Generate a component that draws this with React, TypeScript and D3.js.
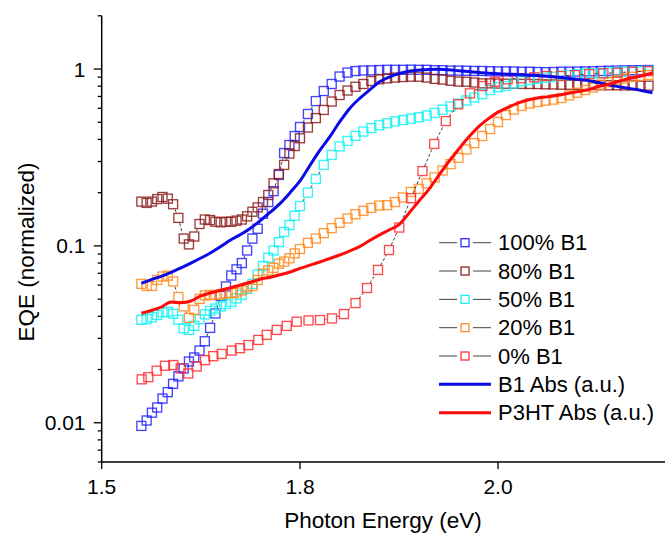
import React from "react";
import * as d3 from "d3";

// ---------- data ----------
const xTickValues = [1.5, 1.8, 2.0];
const xTickLabels = ["1.5", "1.8", "2.0"];
const yMajorValues = [0.01, 0.1, 1];
const yMajorLabels = ["0.01", "0.1", "1"];

// photon energy (eV) for the densely sampled EQE curves
const energyDense = [
  1.56, 1.568, 1.576, 1.584, 1.592, 1.6, 1.608, 1.616, 1.624, 1.632,
  1.64, 1.648, 1.656, 1.664, 1.672, 1.68, 1.688, 1.696, 1.704, 1.712,
  1.72, 1.728, 1.736, 1.744, 1.752, 1.76, 1.768, 1.776, 1.784, 1.792,
  1.8,
  1.808, 1.816, 1.824, 1.832, 1.84, 1.848, 1.856, 1.864, 1.872, 1.88,
  1.888, 1.896, 1.904, 1.912, 1.92, 1.928, 1.936, 1.944, 1.952, 1.96,
  1.968, 1.976, 1.984, 1.992, 2.0, 2.008, 2.016, 2.024, 2.032, 2.04,
  2.048, 2.056, 2.064, 2.072, 2.08, 2.088, 2.096, 2.104, 2.112, 2.12,
  2.128, 2.136, 2.144, 2.152,
];

const eqe100 = [
  0.0096, 0.0103, 0.0114, 0.0122, 0.0137, 0.0149, 0.0166, 0.0183, 0.0203, 0.0222,
  0.0234, 0.0256, 0.0289, 0.0344, 0.0415, 0.0522, 0.059, 0.068, 0.0737, 0.08,
  0.0942, 0.11, 0.125, 0.152, 0.177, 0.204, 0.252, 0.335, 0.372, 0.418,
  0.47,
  0.557, 0.659, 0.751, 0.823, 0.907, 0.955, 0.974, 0.981, 0.983, 0.987,
  0.99, 0.99, 0.99, 0.992, 0.99, 0.99, 0.985, 0.985, 0.98, 0.98,
  0.978, 0.975, 0.975, 0.972, 0.97, 0.97, 0.968, 0.965, 0.965, 0.962,
  0.96, 0.962, 0.965, 0.965, 0.968, 0.97, 0.972, 0.975, 0.978, 0.98,
  0.982, 0.985, 0.985, 0.988,
];

const eqe80 = [
  0.178, 0.175, 0.178, 0.184, 0.189, 0.185, 0.172, 0.144, 0.11, 0.102,
  0.113, 0.133, 0.141, 0.14, 0.137, 0.136, 0.137, 0.137, 0.139, 0.141,
  0.147, 0.156, 0.165, 0.177, 0.194, 0.226, 0.255, 0.287, 0.333, 0.367,
  0.406,
  0.467, 0.528, 0.587, 0.655, 0.713, 0.756, 0.794, 0.823, 0.856, 0.875,
  0.886, 0.895, 0.901, 0.905, 0.905, 0.895, 0.88, 0.872, 0.859, 0.85,
  0.848, 0.839, 0.83, 0.83, 0.828, 0.826, 0.825, 0.824, 0.823, 0.822,
  0.82, 0.818, 0.816, 0.815, 0.813, 0.812, 0.812, 0.81, 0.81, 0.81,
  0.808, 0.808, 0.806, 0.805,
];

const eqe50 = [
  0.0382, 0.0386, 0.0395, 0.0407, 0.0421, 0.0424, 0.0413, 0.0382, 0.0342, 0.0335,
  0.0353, 0.0385, 0.041, 0.0429, 0.0442, 0.0455, 0.0468, 0.0482, 0.0505, 0.0528,
  0.0571, 0.061, 0.069, 0.077, 0.0857, 0.0942, 0.105, 0.12, 0.131, 0.148,
  0.168,
  0.2, 0.239, 0.287, 0.327, 0.365, 0.392, 0.419, 0.443, 0.464, 0.481,
  0.494, 0.506, 0.515, 0.524, 0.534, 0.546, 0.565, 0.589, 0.614, 0.638,
  0.664, 0.69, 0.722, 0.761, 0.789, 0.802, 0.828, 0.852, 0.867, 0.881,
  0.893, 0.905, 0.915, 0.925, 0.935, 0.944, 0.945, 0.947, 0.955, 0.964,
  0.966, 0.966, 0.972, 0.977,
];

const eqe20 = [
  0.061, 0.0594, 0.0594, 0.0642, 0.0671, 0.0679, 0.063, 0.0514, 0.0455, 0.0392,
  0.0435, 0.0502, 0.0525, 0.0528, 0.0528, 0.0532, 0.054, 0.0541, 0.0545, 0.056,
  0.0582, 0.0594, 0.0642, 0.0698, 0.0726, 0.0751, 0.0793, 0.0815, 0.0851, 0.0907,
  0.096,
  0.104, 0.11, 0.118, 0.126, 0.135, 0.143, 0.151, 0.158, 0.164, 0.169,
  0.17, 0.177, 0.188, 0.202, 0.21, 0.226, 0.244, 0.267, 0.29, 0.315,
  0.351, 0.381, 0.418, 0.458, 0.502, 0.549, 0.59, 0.618, 0.638, 0.651,
  0.662, 0.672, 0.686, 0.71, 0.735, 0.761, 0.786, 0.815, 0.841, 0.863,
  0.884, 0.904, 0.915, 0.925,
];

// 0% B1 is sampled more sparsely
const energy0 = [
  1.5605, 1.5705, 1.5832, 1.5958, 1.6083, 1.6195, 1.631, 1.6437, 1.6563, 1.6688,
  1.6815, 1.6967, 1.7092, 1.7218, 1.7369, 1.7496, 1.7648, 1.7799, 1.795, 1.8086,
  1.8202, 1.8323, 1.8444, 1.8561, 1.8677, 1.8788, 1.8899, 1.9003, 1.9121, 1.9237,
  1.9356, 1.9473, 1.9596, 1.9717, 1.9841, 1.997, 2.0098, 2.0232, 2.0367, 2.0492,
  2.0636, 2.0778, 2.0922, 2.1064, 2.1209, 2.1357, 2.1512,
];
const eqe0 = [
  0.0176, 0.0181, 0.0197, 0.021, 0.0212, 0.0203, 0.019, 0.0208, 0.0226, 0.0238,
  0.0245, 0.0256, 0.0264, 0.0275, 0.0294, 0.0314, 0.0335, 0.0353, 0.0373, 0.0379,
  0.0381, 0.0389, 0.0412, 0.0475, 0.0578, 0.0731, 0.0948, 0.127, 0.186, 0.265,
  0.377, 0.508, 0.632, 0.729, 0.801, 0.848, 0.875, 0.886, 0.898, 0.913,
  0.913, 0.925, 0.937, 0.946, 0.953, 0.965, 0.974,
];

// absorption spectra (a.u.)
const energyAbs = [
  1.56, 1.575, 1.59, 1.605, 1.62, 1.635, 1.65, 1.665, 1.68, 1.695,
  1.71, 1.725, 1.74, 1.755, 1.77, 1.785, 1.8,
  1.81, 1.82, 1.83, 1.84, 1.85, 1.86, 1.87, 1.88, 1.89, 1.9,
  1.91, 1.92, 1.93, 1.94, 1.95, 1.96, 1.97, 1.98, 1.99, 2.0,
  2.01, 2.02, 2.03, 2.04, 2.05, 2.06, 2.07, 2.08, 2.09, 2.1,
  2.11, 2.12, 2.13, 2.14, 2.15, 2.156,
];
const absB1 = [
  0.0614, 0.0645, 0.0673, 0.0709, 0.0752, 0.08, 0.0854, 0.0914, 0.0992, 0.108,
  0.116, 0.126, 0.139, 0.155, 0.174, 0.2, 0.233,
  0.285, 0.347, 0.413, 0.502, 0.597, 0.68, 0.759, 0.844, 0.901, 0.942,
  0.972, 0.986, 0.995, 0.996, 0.99, 0.979, 0.968, 0.955, 0.947, 0.94,
  0.935, 0.931, 0.925, 0.918, 0.909, 0.899, 0.887, 0.876, 0.863, 0.841,
  0.819, 0.798, 0.781, 0.766, 0.746, 0.735,
];
const absP3HT = [
  0.0416, 0.0431, 0.0451, 0.0481, 0.0477, 0.0488, 0.0521, 0.0543, 0.0561, 0.058,
  0.0601, 0.0623, 0.0648, 0.0665, 0.0687, 0.0712, 0.0747,
  0.0778, 0.0811, 0.0849, 0.0888, 0.0936, 0.099, 0.107, 0.115, 0.123, 0.132,
  0.153, 0.179, 0.208, 0.25, 0.298, 0.351, 0.41, 0.47, 0.522, 0.571,
  0.607, 0.642, 0.668, 0.686, 0.696, 0.71, 0.727, 0.744, 0.761, 0.793,
  0.817, 0.844, 0.878, 0.901, 0.931, 0.949,
];

const scatterNames = ["100% B1", "80% B1", "50% B1", "20% B1", "0% B1"];
const scatterColors = ["#2323ff", "#8c1c1c", "#12f2f2", "#ff8a1c", "#ff2b2b"];
const lineNames = ["B1 Abs (a.u.)", "P3HT Abs (a.u.)"];
const lineColors = ["#0a0ae6", "#ff0a0a"];

const FONT = "'Liberation Sans', Arial, Helvetica, sans-serif";

export default function App() {
  const W = 665;
  const H = 537;
  const x = d3.scaleLinear().domain([1.5, 1.8, 2.17]).range([101.7, 300, 666.3]);
  const y = d3.scaleLog().domain([0.006, 2]).range([462, 15.8]);
  const axisX = 101.7;
  const axisY = 462;
  const ms = 9; // marker size

  const scatter = [
    { e: energyDense, v: eqe100 },
    { e: energyDense, v: eqe80 },
    { e: energyDense, v: eqe50 },
    { e: energyDense, v: eqe20 },
    { e: energy0, v: eqe0 },
  ].map((s, i) => ({
    name: scatterNames[i],
    color: scatterColors[i],
    pts: s.e.map((e, j) => [x(e), y(s.v[j])] as [number, number]),
  }));

  const lines = [absB1, absP3HT].map((vals, i) => ({
    name: lineNames[i],
    color: lineColors[i],
    pts: energyAbs.map((e, j) => [x(e), y(vals[j])] as [number, number]),
  }));

  const lineGen = d3.line().curve(d3.curveMonotoneX);

  // connector segments with gaps around the symbols
  const gap = 5.5;
  const connectors = (pts: [number, number][]) => {
    const segs: string[] = [];
    for (let i = 0; i < pts.length - 1; i++) {
      const [x0, y0] = pts[i];
      const [x1, y1] = pts[i + 1];
      const dx = x1 - x0;
      const dy = y1 - y0;
      const len = Math.hypot(dx, dy);
      if (len <= 2 * gap + 1) continue;
      const ux = dx / len;
      const uy = dy / len;
      segs.push(
        `M${x0 + ux * gap},${y0 + uy * gap}L${x1 - ux * gap},${y1 - uy * gap}`
      );
    }
    return segs.join("");
  };

  const yTicks = y.ticks();
  const isMajor = (t: number) => Math.abs(Math.log10(t) - Math.round(Math.log10(t))) < 1e-6;

  const legendX0 = 439;
  const legendX1 = 491;
  const legendY0 = 242.7;
  const legendDy = 28.33;

  return (
    <svg
      width={W}
      height={H}
      style={{ position: "absolute", left: 0, top: 0, background: "#fff" }}
      fontFamily={FONT}
    >
      <rect x={0} y={0} width={W} height={H} fill="#fff" />

      {/* scatter series */}
      {scatter.map((s) => (
        <g key={s.name}>
          <path
            d={connectors(s.pts)}
            fill="none"
            stroke="#111"
            strokeWidth={0.8}
            strokeDasharray="3 2"
          />
          {s.pts.map(([cx, cy], j) => (
            <rect
              key={j}
              x={cx - ms / 2}
              y={cy - ms / 2}
              width={ms}
              height={ms}
              fill="none"
              stroke={s.color}
              strokeWidth={1.35}
              strokeOpacity={0.85}
            />
          ))}
        </g>
      ))}

      {/* absorption lines */}
      {lines.map((l) => (
        <path
          key={l.name}
          d={lineGen(l.pts) || ""}
          fill="none"
          stroke={l.color}
          strokeWidth={3}
          strokeLinejoin="round"
        />
      ))}

      {/* axes */}
      <line x1={axisX} x2={axisX} y1={y(2)} y2={axisY} stroke="#000" strokeWidth={1.5} />
      <line x1={axisX} x2={W} y1={axisY} y2={axisY} stroke="#000" strokeWidth={1.5} />

      {yTicks.map((t, i) => (
        <line
          key={i}
          x1={axisX - (isMajor(t) ? 8 : 4)}
          x2={axisX}
          y1={y(t)}
          y2={y(t)}
          stroke="#000"
          strokeWidth={1.3}
        />
      ))}
      {yMajorValues.map((t, i) => (
        <text
          key={t}
          x={85.5}
          y={y(t)}
          textAnchor="end"
          dominantBaseline="central"
          fontSize={21}
          fill="#000"
        >
          {yMajorLabels[i]}
        </text>
      ))}

      {xTickValues.map((t, i) => (
        <g key={t}>
          <line x1={x(t)} x2={x(t)} y1={axisY} y2={axisY + 7} stroke="#000" strokeWidth={1.3} />
          <text x={x(t)} y={493.5} textAnchor="middle" fontSize={21} fill="#000">
            {xTickLabels[i]}
          </text>
        </g>
      ))}

      <text x={383} y={528} textAnchor="middle" fontSize={22.5} fill="#000">
        Photon Energy (eV)
      </text>
      <text
        transform={`translate(34,252) rotate(-90)`}
        textAnchor="middle"
        fontSize={22.5}
        fill="#000"
      >
        EQE (normalized)
      </text>

      {/* legend */}
      {scatter.map((s, i) => {
        const ly = legendY0 + i * legendDy;
        const mx = (legendX0 + legendX1) / 2;
        return (
          <g key={"lg" + s.name}>
            <line x1={legendX0} x2={mx - 8} y1={ly} y2={ly} stroke="#444" strokeWidth={1} />
            <line x1={mx + 8} x2={legendX1} y1={ly} y2={ly} stroke="#444" strokeWidth={1} />
            <rect x={mx - 4} y={ly - 4} width={8} height={8} fill="none" stroke={s.color} strokeWidth={1.25} />
            <text x={498} y={ly} dominantBaseline="central" fontSize={22} fill="#000">
              {s.name}
            </text>
          </g>
        );
      })}
      {lines.map((l, i) => {
        const ly = legendY0 + (i + 5) * legendDy;
        return (
          <g key={"ll" + l.name}>
            <line x1={legendX0} x2={legendX1} y1={ly} y2={ly} stroke={l.color} strokeWidth={3} />
            <text x={498} y={ly} dominantBaseline="central" fontSize={22} fill="#000">
              {l.name}
            </text>
          </g>
        );
      })}
    </svg>
  );
}
